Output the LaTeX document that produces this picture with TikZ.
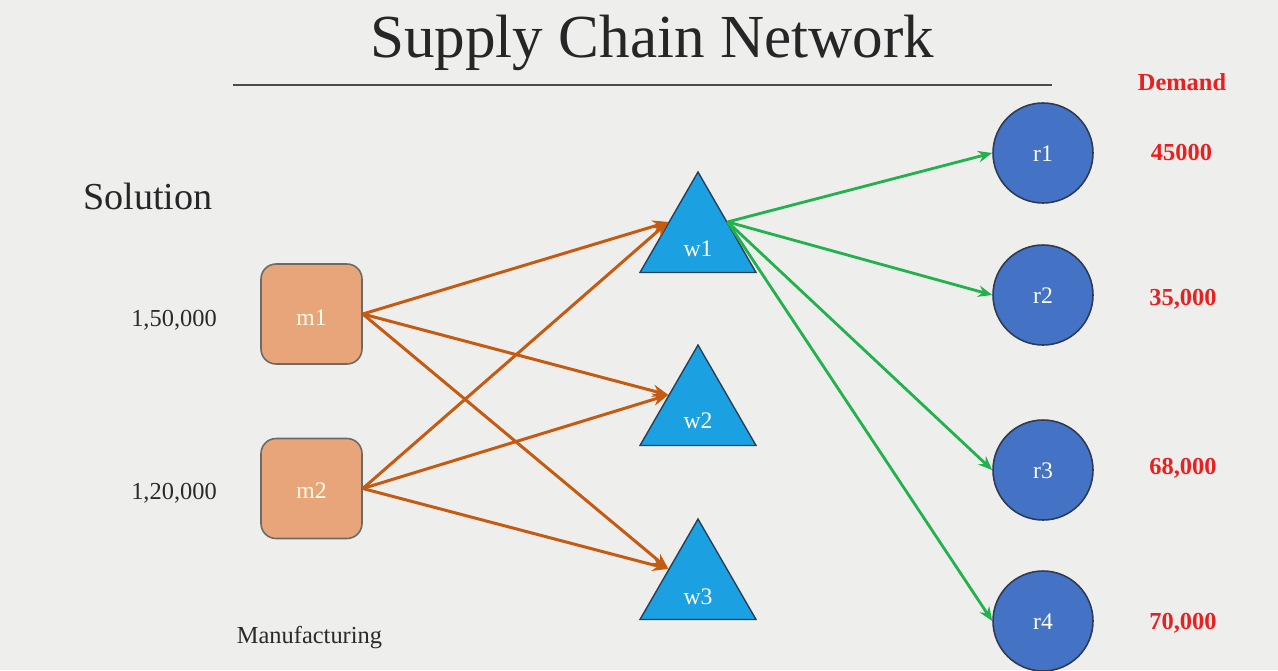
\documentclass[tikz,border=0pt]{standalone}
\usepackage{fontspec}
\setmainfont{Liberation Serif}
\usetikzlibrary{shapes.geometric,arrows.meta}
\definecolor{bgc}{HTML}{EEEEED}
\definecolor{mfill}{HTML}{E8A57A}
\definecolor{mdraw}{HTML}{6A6A6A}
\definecolor{wfill}{HTML}{1BA1E2}
\definecolor{wdraw}{HTML}{2A3F55}
\definecolor{rfill}{HTML}{4472C4}
\definecolor{rdraw}{HTML}{2F3B52}
\definecolor{orarrow}{HTML}{C55A11}
\definecolor{grarrow}{HTML}{22B14C}
\definecolor{dem}{HTML}{E8201F}
\definecolor{txt}{HTML}{2A2A2A}
\begin{document}
\begin{tikzpicture}[x=0.02cm,y=-0.02cm,
  mbox/.style={rectangle,rounded corners=0.3cm,fill=mfill,draw=mdraw,line width=0.9pt,minimum width=2.02cm,minimum height=2.0cm,inner sep=0pt},
  wtri/.style={regular polygon,regular polygon sides=3,fill=wfill,draw=wdraw,line width=0.8pt,minimum size=2.68cm,inner sep=0pt},
  rcirc/.style={circle,fill=rfill,draw=rdraw,line width=0.9pt,minimum size=2.0cm,inner sep=0pt},
  intext/.style={text=white!92!yellow,font=\fontsize{13.5}{16}\selectfont},
  sidetext/.style={text=txt,font=\fontsize{13.9}{16}\selectfont,anchor=base},
  demtext/.style={text=dem,font=\bfseries\fontsize{13.9}{16}\selectfont,anchor=base},
  oarr/.style={draw=orarrow,line width=1.7pt,-{Stealth[length=9pt,width=7pt]}},
  garr/.style={draw=grarrow,line width=1.6pt,-{Stealth[length=8pt,width=6.5pt]}}]
\fill[bgc] (0,0) rectangle (1278,670);
\useasboundingbox (0,0) rectangle (1278,670);
% title
\node[anchor=base,text=black!85,font=\fontsize{34.8}{40}\selectfont,inner sep=0pt] (title) at (652,57) {Supply Chain Network};
\draw[black!70,line width=1pt] (233,85) -- (1052,85);
\node[anchor=base,text=black!85,font=\fontsize{21.7}{26}\selectfont,inner sep=0pt] (sol) at (148,209) {Solution};
% manufacturing
\node[mbox] (m1) at (311.5,314) {};
\node[intext] (m1t) at (311.5,318) {m1};
\node[mbox] (m2) at (311.5,488.5) {};
\node[intext] (m2t) at (311.5,491) {m2};
\node[sidetext,inner sep=0pt] (c1) at (174,326) {1,50,000};
\node[sidetext,inner sep=0pt] (c2) at (174,499) {1,20,000};
\node[sidetext,inner sep=0pt] (manu) at (309.5,643) {Manufacturing};
% warehouses
\node[wtri] (w1) at (698,239) {};
\node[intext] (w1t) at (698,249) {w1};
\node[wtri] (w2) at (698,412) {};
\node[intext] (w2t) at (698,421) {w2};
\node[wtri] (w3) at (698,586) {};
\node[intext] (w3t) at (698,597) {w3};
% retailers
\node[rcirc] (r1) at (1043,153) {};
\node[intext] (r1t) at (1043,154) {r1};
\node[rcirc] (r2) at (1043,295) {};
\node[intext] (r2t) at (1043,296) {r2};
\node[rcirc] (r3) at (1043,470) {};
\node[intext] (r3t) at (1043,471) {r3};
\node[rcirc] (r4) at (1043,621) {};
\node[intext] (r4t) at (1043,622) {r4};
% demand
\node[demtext,inner sep=0pt] (dh) at (1182,90) {Demand};
\node[demtext,inner sep=0pt] (d1) at (1181.5,160) {45000};
\node[demtext,inner sep=0pt] (d2) at (1183,305) {35,000};
\node[demtext,inner sep=0pt] (d3) at (1183,474) {68,000};
\node[demtext,inner sep=0pt] (d4) at (1183,629) {70,000};
% arrows
\draw[oarr] (m1.east) -- (w1.side 1);
\draw[oarr] (m1.east) -- (w2.side 1);
\draw[oarr] (m1.east) -- (w3.side 1);
\draw[oarr] (m2.east) -- (w1.side 1);
\draw[oarr] (m2.east) -- (w2.side 1);
\draw[oarr] (m2.east) -- (w3.side 1);
\draw[garr] (w1.side 3) -- (r1.west);
\draw[garr] (w1.side 3) -- (r2.west);
\draw[garr] (w1.side 3) -- (r3.west);
\draw[garr] (w1.side 3) -- (r4.west);
\end{tikzpicture}
\end{document}
